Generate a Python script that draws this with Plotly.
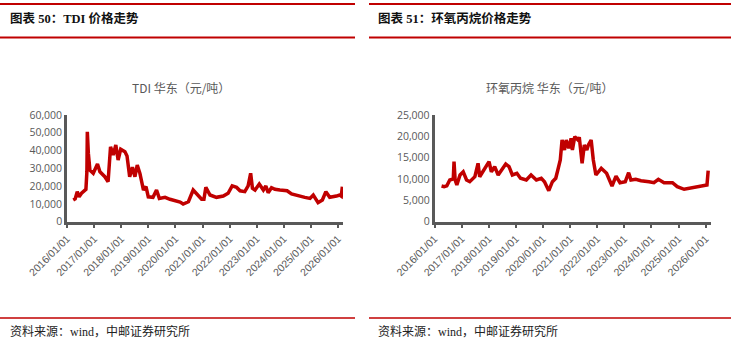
import plotly.graph_objects as go

W, H = 731, 350

# ---------------- data ----------------
tdi_dates = ["2016-03-25","2016-04-20","2016-05-18","2016-06-12","2016-07-15","2016-08-20","2016-09-12",
             "2016-09-25","2016-10-01","2016-10-15","2016-11-05","2016-12-20","2017-02-15","2017-03-20",
             "2017-05-25","2017-07-08","2017-08-10","2017-09-15","2017-10-20","2017-11-20","2017-12-25",
             "2018-02-20","2018-03-20","2018-04-25","2018-06-01","2018-07-05","2018-08-05","2018-09-10",
             "2018-10-28","2018-12-01","2019-01-01","2019-03-05","2019-04-22","2019-05-30","2019-08-15",
             "2019-10-20","2019-12-28","2020-03-05","2020-04-15","2020-06-25","2020-08-28","2020-10-22",
             "2020-12-20","2021-01-20","2021-02-15","2021-04-12","2021-07-08","2021-10-08","2021-12-12",
             "2022-02-05","2022-04-05","2022-05-22","2022-07-25","2022-09-08","2022-10-12","2022-11-05",
             "2022-12-10","2023-02-05","2023-04-01","2023-05-05","2023-06-05","2023-07-20","2023-09-05",
             "2023-11-10","2024-02-15","2024-04-15","2024-07-15","2024-10-12","2024-12-20","2025-02-02",
             "2025-04-08","2025-06-05","2025-07-22","2025-09-12","2025-12-12","2026-01-25","2026-02-15",
             "2026-03-01"]
tdi_values = [12200,12800,16900,14000,16000,17500,18200,
              28000,50600,38400,29000,27200,32400,28100,
              25300,22500,42100,37500,43100,34700,40700,
              39300,37000,25300,30600,25300,31900,27200,
              17800,19700,14000,13700,17800,13100,13700,
              12600,11800,11000,9900,11200,17800,15000,
              12600,12600,19300,15000,13700,14400,16000,
              20100,19300,17400,16900,20100,27200,18800,
              17800,21200,17800,20100,16300,19100,18200,
              17800,17400,15600,14400,13700,13100,15000,
              10700,12200,16900,13700,14400,15000,14400,
              19700]

po_dates = ["2016-04-05","2016-05-10","2016-06-15","2016-07-25","2016-09-10","2016-09-20","2016-10-05",
            "2016-10-28","2016-12-10","2017-01-22","2017-03-08","2017-04-20","2017-06-28","2017-08-10",
            "2017-09-01","2017-10-25","2017-12-01","2018-01-05","2018-02-05","2018-03-22","2018-05-08",
            "2018-06-20","2018-08-18","2018-10-01","2018-11-15","2019-01-15","2019-03-05","2019-05-22",
            "2019-07-25","2019-10-05","2019-12-10","2020-01-22","2020-02-10","2020-03-20","2020-05-08",
            "2020-06-22","2020-07-20","2020-08-22","2020-09-15","2020-10-18","2020-11-10","2020-12-15",
            "2021-01-15","2021-02-01","2021-03-05","2021-04-18","2021-05-05","2021-06-12","2021-07-12",
            "2021-08-15","2021-09-05","2021-10-12","2021-11-10","2021-12-15","2022-02-25","2022-05-08",
            "2022-07-20","2022-09-12","2022-11-05","2023-01-15","2023-03-01","2023-04-01","2023-06-05",
            "2023-08-15","2023-12-01","2024-02-05","2024-04-05","2024-06-20","2024-10-12","2024-12-15",
            "2025-03-18","2025-06-15","2025-08-22","2025-11-18","2026-01-20","2026-02-05"]
po_values = [8360,8200,8400,9770,10000,14060,9770,
             8600,10940,11700,9770,9370,10540,13680,
             10540,12110,13280,14060,11700,12890,10940,
             12110,13520,12890,10940,11340,10170,9770,
             10940,9770,10170,9370,8600,7260,9370,
             10170,12110,14460,19140,16800,19140,17200,
             19540,16800,19920,19140,19800,13680,17970,
             16800,18000,19140,14460,10940,12510,11340,
             8360,10700,9140,9370,11480,9770,9930,
             9610,9370,9140,9930,9140,9140,8200,
             7590,7830,8200,8360,8600,11950]

left_title = "TDI 华东（元/吨）"
right_title = "环氧丙烷 华东（元/吨）"
left_header = "图表 50：TDI 价格走势"
right_header = "图表 51：环氧丙烷价格走势"
source_text = "资料来源：wind，中邮证券研究所"
tdi_yticks = [0, 10000, 20000, 30000, 40000, 50000, 60000]
po_yticks = [0, 5000, 10000, 15000, 20000, 25000]

# ---------------- figure ----------------
def px(x):
    return x / W

def py(y):
    return 1 - y / H

RED = "#C00000"
AX = "#595959"
FONT = "Noto Sans CJK SC"
SERIF = "Liberation Serif, Noto Sans CJK SC"

fig = go.Figure()
fig.add_trace(go.Scatter(x=tdi_dates, y=tdi_values, mode="lines",
                         line=dict(color=RED, width=3.5), xaxis="x", yaxis="y",
                         showlegend=False, hoverinfo="skip"))
fig.add_trace(go.Scatter(x=po_dates, y=po_values, mode="lines",
                         line=dict(color=RED, width=3.5), xaxis="x2", yaxis="y2",
                         showlegend=False, hoverinfo="skip"))

xcommon = dict(type="date", tick0="2016-01-01", dtick="M12", tickformat="%Y/%m/%d",
               tickangle=-45, showgrid=False, zeroline=False, showline=True, automargin=False,
               linecolor=AX, linewidth=2.5, ticks="outside", ticklen=4, tickwidth=2,
               tickcolor=AX, tickfont=dict(family="Liberation Sans", size=10.5, color=AX))
ycommon = dict(showgrid=False, zeroline=False, showline=True, linecolor=AX, linewidth=2.5,
               ticks="", tickformat=",d", automargin=False,
               tickfont=dict(family="Open Sans", size=10.5, color=AX))

y_bot = py(221.7)
y_top = py(115)

fig.update_layout(
    template="none",
    width=W, height=H, margin=dict(l=0, r=0, t=0, b=0, pad=0), autosize=False,
    paper_bgcolor="white", plot_bgcolor="white", showlegend=False,
    xaxis=dict(xcommon, domain=[px(67), px(343)], range=["2016-01-01", "2026-03-10"],
               anchor="y"),
    yaxis=dict(ycommon, domain=[y_bot, y_top], range=[0, 60000], tickvals=tdi_yticks,
               anchor="x"),
    xaxis2=dict(xcommon, domain=[px(434.5), px(711)], range=["2016-01-01", "2026-03-15"],
                anchor="y2"),
    yaxis2=dict(ycommon, domain=[y_bot, y_top], range=[0, 25000], tickvals=po_yticks,
                anchor="x2"),
)

shapes = []
for (x0, x1) in [(0, 355), (369, 731)]:
    for yy in [4, 37.5, 318]:
        shapes.append(dict(type="line", xref="paper", yref="paper",
                           x0=px(x0), x1=px(x1), y0=py(yy), y1=py(yy),
                           line=dict(color=RED, width=2 if yy != 318 else 1.5)))
fig.update_layout(shapes=shapes)

ann = [
    dict(text="<b>" + left_header + "</b>", x=px(8), y=py(19), xanchor="left", yanchor="middle",
         font=dict(family=SERIF, size=12.5, color="#111111")),
    dict(text="<b>" + right_header + "</b>", x=px(376), y=py(19), xanchor="left", yanchor="middle",
         font=dict(family=SERIF, size=12.5, color="#111111")),
    dict(text=left_title, x=px(181), y=py(87), xanchor="center", yanchor="middle",
         font=dict(family=FONT, size=12, color=AX)),
    dict(text=right_title, x=px(549), y=py(87), xanchor="center", yanchor="middle",
         font=dict(family=FONT, size=12, color=AX)),
    dict(text=source_text, x=px(8), y=py(331), xanchor="left", yanchor="middle",
         font=dict(family=SERIF, size=12, color="#222222")),
    dict(text=source_text, x=px(376), y=py(331), xanchor="left", yanchor="middle",
         font=dict(family=SERIF, size=12, color="#222222")),
]
for a in ann:
    a.update(xref="paper", yref="paper", showarrow=False)
fig.update_layout(annotations=ann)

fig.write_html("out.html")
